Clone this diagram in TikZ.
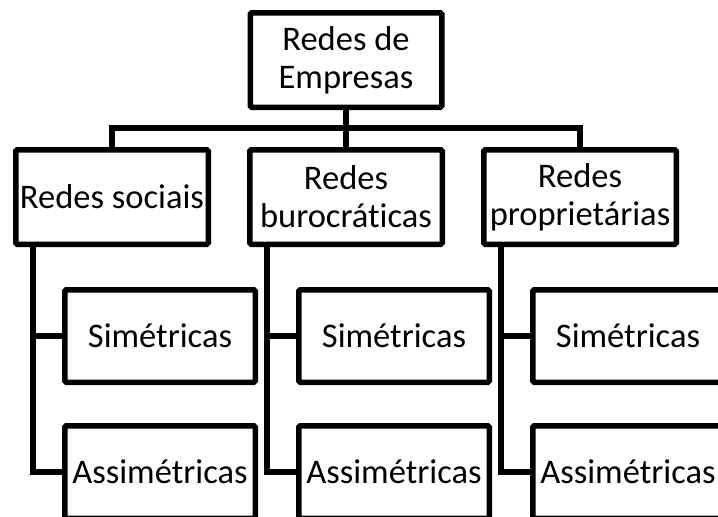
\documentclass[tikz,border=0pt]{standalone}
\usepackage{fontspec}
\setmainfont[Ligatures=NoCommon]{Carlito}
\begin{document}
\begin{tikzpicture}[x=1pt,y=-1pt,
  box/.style={draw=black,line width=5.5pt,rounded corners=1.5pt,fill=white,inner sep=0pt,align=center,
    font=\fontsize{34.5}{38}\selectfont},
  topbox/.style={box,minimum width=191.5pt,minimum height=94.5pt},
  lvbox/.style={box,minimum width=192.5pt,minimum height=94.5pt},
  chbox/.style={box,minimum width=190.5pt,minimum height=92.5pt},
  conn/.style={draw=black,line width=5.5pt,line join=miter}]
\useasboundingbox (0,0) rectangle (718,517);
\clip (0,0) rectangle (718,517);
\fill[white] (0,0) rectangle (718,517);
% top
\node[topbox] (top) at (346,60) {Redes de\\Empresas};
% level 2
\node[lvbox] (ls) at (112,197) {Redes sociais};
\node[lvbox] (lb) at (346,197) {Redes\\burocráticas};
\node[lvbox] (lp) at (580,197) {Redes\\proprietárias};
% children
\node[chbox] (ls1) at (160,336) {Simétricas};
\node[chbox] (ls2) at (160,472) {Assimétricas};
\node[chbox] (lb1) at (394,336) {Simétricas};
\node[chbox] (lb2) at (394,472) {Assimétricas};
\node[chbox] (lp1) at (628,336) {Simétricas};
\node[chbox] (lp2) at (628,472) {Assimétricas};
% bus
\coordinate (bus) at (346,128);
\draw[conn] (top.south) -- (lb.north);
\draw[conn] (bus) -| (ls.north);
\draw[conn] (bus) -| (lp.north);
% stems
\foreach \p in {ls,lb,lp}{
  \draw[conn] ([xshift=-79pt]\p.south) |- (\p1.west);
  \draw[conn] ([xshift=-79pt]\p.south) |- (\p2.west);
}
\end{tikzpicture}
\end{document}
